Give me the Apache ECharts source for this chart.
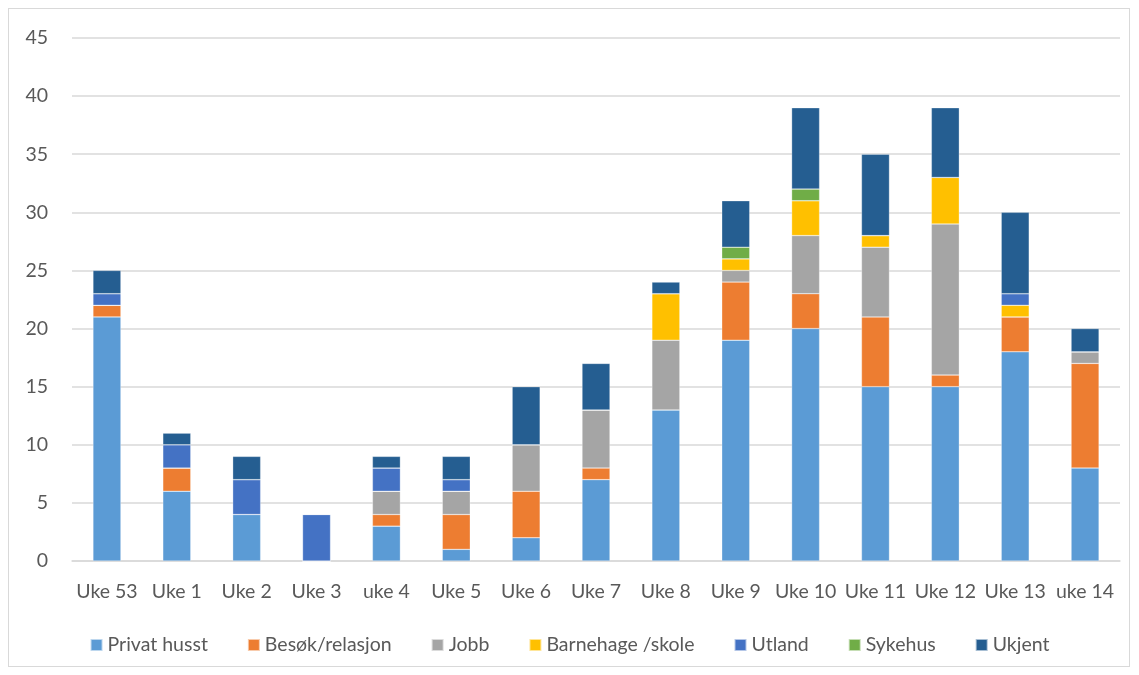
<!DOCTYPE html>
<html>
<head>
<meta charset="utf-8">
<script src="https://cdn.jsdelivr.net/npm/echarts@6/dist/echarts.min.js"></script>
<style>
html,body{margin:0;padding:0;background:#fff;}
#wrap{position:relative;width:1139px;height:675px;}
#frame{position:absolute;left:8px;top:8px;width:1122px;height:659px;border:1px solid #D9D9D9;box-sizing:border-box;}
#chart{position:absolute;left:0;top:0;width:1139px;height:675px;}
</style>
</head>
<body>
<div id="wrap"><div id="frame"></div><div id="chart"></div></div>
<script>
const categories = ['Uke 53','Uke 1','Uke 2','Uke 3','uke 4','Uke 5','Uke 6','Uke 7','Uke 8','Uke 9','Uke 10','Uke 11','Uke 12','Uke 13','uke 14'];
const privatHusst  = [21, 6, 4, 0, 3, 1, 2, 7, 13, 19, 20, 15, 15, 18, 8];
const besokRelasjon= [ 1, 2, 0, 0, 1, 3, 4, 1,  0,  5,  3,  6,  1,  3, 9];
const jobb         = [ 0, 0, 0, 0, 2, 2, 4, 5,  6,  1,  5,  6, 13,  0, 1];
const barnehage    = [ 0, 0, 0, 0, 0, 0, 0, 0,  4,  1,  3,  1,  4,  1, 0];
const utland       = [ 1, 2, 3, 4, 2, 1, 0, 0,  0,  0,  0,  0,  0,  1, 0];
const sykehus      = [ 0, 0, 0, 0, 0, 0, 0, 0,  0,  1,  1,  0,  0,  0, 0];
const ukjent       = [ 2, 1, 2, 0, 1, 2, 5, 4,  1,  4,  7,  7,  6,  7, 2];
const yTicks = [0,5,10,15,20,25,30,35,40,45];

const seriesDefs = [
  ['Privat husst', privatHusst, '#5B9BD5'],
  ['Besøk/relasjon', besokRelasjon, '#ED7D31'],
  ['Jobb', jobb, '#A5A5A5'],
  ['Barnehage /skole', barnehage, '#FFC000'],
  ['Utland', utland, '#4472C4'],
  ['Sykehus', sykehus, '#70AD47'],
  ['Ukjent', ukjent, '#255E91']
];
const font = 'Lato, "Open Sans", sans-serif';
const chart = echarts.init(document.getElementById('chart'), null, {renderer:'canvas'});
chart.setOption({
  animation:false,
  grid:{left:72, right:19, top:38, bottom:114, containLabel:false},
  legend:{
    bottom:15, left:'center', icon:'rect', itemWidth:12, itemHeight:12, itemGap:39,
    textStyle:{fontSize:19.5, color:'#595959', fontFamily:font},
    data: seriesDefs.map(s=>s[0])
  },
  xAxis:{
    type:'category', data:categories,
    axisLine:{lineStyle:{color:'#D9D9D9', width:1.5}},
    axisTick:{show:false},
    axisLabel:{fontSize:19.5, color:'#595959', fontFamily:font, margin:21, interval:0}
  },
  yAxis:{
    type:'value', min:yTicks[0], max:yTicks[yTicks.length-1], interval:5,
    axisLine:{show:false}, axisTick:{show:false},
    axisLabel:{fontSize:19.5, color:'#595959', fontFamily:font, margin:24},
    splitLine:{lineStyle:{color:'#D9D9D9', width:1.5}}
  },
  series: seriesDefs.map(s=>({
    name:s[0], type:'bar', stack:'total', data:s[1], barWidth:'40%',
    itemStyle:{color:s[2], borderColor:'rgba(255,255,255,0.6)', borderWidth:0.5}
  }))
});
</script>
</body>
</html>
